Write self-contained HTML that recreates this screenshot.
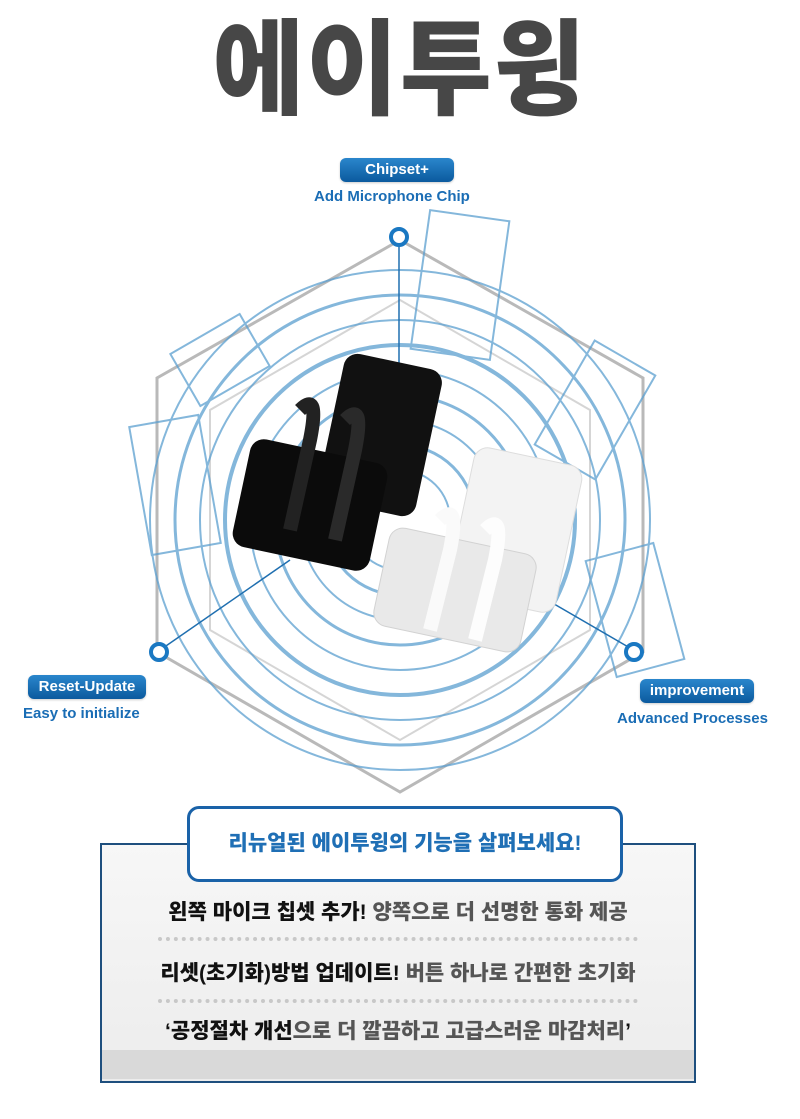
<!DOCTYPE html>
<html><head><meta charset="utf-8">
<style>
body{margin:0;width:800px;height:1119px;background:#fff;position:relative;overflow:hidden;font-family:"Liberation Sans","Noto Sans CJK KR",sans-serif;}
.abs{position:absolute}
.title{left:0;width:800px;top:6px;text-align:center;font-size:104px;font-weight:900;color:#474747;letter-spacing:2px;line-height:130px;transform:scaleX(.96);}
.pill{position:absolute;background:linear-gradient(#2a86cc,#0b5a9e);color:#fff;font-weight:bold;font-size:15px;border-radius:6px;text-align:center;line-height:24px;box-shadow:0 1px 2px #0003}
.sub{position:absolute;color:#1a6db5;font-weight:bold;font-size:15px;white-space:nowrap}
.box{left:100px;top:843px;width:592px;height:236px;border:2px solid #1e4f7e;background:linear-gradient(#f7f7f7,#ececec);}
.strip{left:102px;top:1050px;width:592px;height:29px;background:#d9d9d9}
.hdr{left:187px;top:806px;width:430px;height:70px;border:3px solid #1a62a8;border-radius:12px;background:#fff;text-align:center;line-height:70px;font-size:21px;font-weight:900;color:#1f6fb5;}
.ln{left:100px;width:596px;text-align:center;font-size:21px;font-weight:900;color:#111;white-space:nowrap}
.ln span{color:#555}
.dot{left:158px;width:480px;height:0;border-top:4px dotted #c8c8c8}
</style></head><body>
<div class="abs title">에이투윙</div>
<svg class="abs" style="left:0;top:0" width="800" height="800">
 <g fill="none" stroke="#a8a8a8" stroke-width="3" opacity=".8">
  <polygon points="400,240 643,378 643,652 400,792 157,652 157,378"/>
  <polygon points="400,300 590,410 590,630 400,740 210,630 210,410" stroke-width="2" opacity=".6"/>
 </g>
 <g fill="none" stroke="#5b9fd0" opacity=".75">
  <circle cx="400" cy="520" r="250" stroke-width="2"/>
  <circle cx="400" cy="520" r="225" stroke-width="3"/>
  <circle cx="400" cy="520" r="200" stroke-width="2"/>
  <circle cx="400" cy="520" r="175" stroke-width="4"/>
  <circle cx="400" cy="520" r="150" stroke-width="2"/>
  <circle cx="400" cy="520" r="125" stroke-width="3"/>
  <circle cx="400" cy="520" r="100" stroke-width="2"/>
  <circle cx="400" cy="520" r="75" stroke-width="3"/>
  <circle cx="400" cy="520" r="50" stroke-width="2"/>
  <rect x="420" y="215" width="80" height="140" stroke-width="2" transform="rotate(8 460 285)"/>
  <rect x="560" y="350" width="70" height="120" stroke-width="2" transform="rotate(30 595 410)"/>
  <rect x="140" y="420" width="70" height="130" stroke-width="2" transform="rotate(-10 175 485)"/>
  <rect x="600" y="550" width="70" height="120" stroke-width="2" transform="rotate(-15 635 610)"/>
  <rect x="180" y="330" width="80" height="60" stroke-width="2" transform="rotate(-30 220 360)"/>
 </g>
 <g stroke="#1f6fb0" stroke-width="1.5">
  <line x1="399" y1="245" x2="399" y2="370"/>
  <line x1="163" y1="648" x2="290" y2="560"/>
  <line x1="630" y1="648" x2="530" y2="590"/>
 </g>
 <g fill="#fff" stroke="#1a78c2" stroke-width="4">
  <circle cx="399" cy="237" r="8"/>
  <circle cx="159" cy="652" r="8"/>
  <circle cx="634" cy="652" r="8"/>
 </g>
 <g>
  <rect x="330" y="360" width="100" height="150" rx="14" fill="#111" transform="rotate(12 380 435)"/>
  <rect x="240" y="450" width="140" height="110" rx="14" fill="#0b0b0b" transform="rotate(12 310 505)"/>
  <path d="M300 410 q20 -20 10 30 l-20 90" stroke="#222" stroke-width="14" fill="none"/>
  <path d="M345 420 q20 -20 10 30 l-20 90" stroke="#2a2a2a" stroke-width="14" fill="none"/>
 </g>
 <g>
  <rect x="460" y="455" width="110" height="150" rx="14" fill="#f3f3f3" stroke="#ddd" transform="rotate(12 515 530)"/>
  <rect x="380" y="540" width="150" height="100" rx="14" fill="#e9e9e9" stroke="#d2d2d2" transform="rotate(12 455 590)"/>
  <path d="M440 520 q20 -20 10 30 l-20 80" stroke="#fafafa" stroke-width="14" fill="none"/>
  <path d="M485 530 q20 -20 10 30 l-20 80" stroke="#fdfdfd" stroke-width="14" fill="none"/>
 </g>
</svg>
<div class="pill" style="left:340px;top:158px;width:114px">Chipset+</div>
<div class="sub" style="left:314px;top:188px">Add Microphone Chip</div>
<div class="pill" style="left:28px;top:675px;width:118px">Reset-Update</div>
<div class="sub" style="left:23px;top:705px">Easy to initialize</div>
<div class="pill" style="left:640px;top:679px;width:114px">improvement</div>
<div class="sub" style="left:617px;top:710px">Advanced Processes</div>

<div class="abs box"></div>
<div class="abs strip"></div>
<div class="abs hdr">리뉴얼된 에이투윙의 기능을 살펴보세요!</div>
<div class="abs ln" style="top:896px">왼쪽 마이크 칩셋 추가! <span>양쪽으로 더 선명한 통화 제공</span></div>
<div class="abs dot" style="top:937px"></div>
<div class="abs ln" style="top:957px">리셋(초기화)방법 업데이트! <span>버튼 하나로 간편한 초기화</span></div>
<div class="abs dot" style="top:999px"></div>
<div class="abs ln" style="top:1015px">‘공정절차 개선<span>으로 더 깔끔하고 고급스러운 마감처리</span>’</div>
</body></html>
